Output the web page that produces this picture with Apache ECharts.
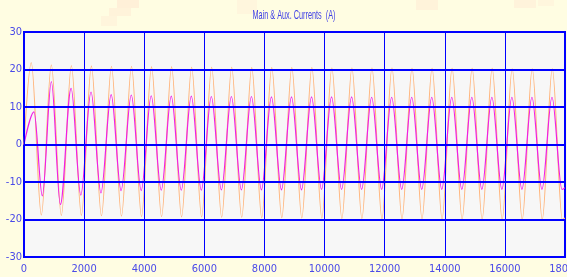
<!DOCTYPE html>
<html>
<head>
<meta charset="utf-8">
<script src="https://cdn.jsdelivr.net/npm/echarts@6/dist/echarts.min.js"></script>
<style>
	html, body { margin: 0; padding: 0; background: #fffde2; }
	#currentChart { width: 567px; height: 277px; }
</style>
</head>
<body>
<div id="currentChart"></div>
<script>
// 主绕组 / 副绕组电流, 取自图中的峰谷点
const mainT = [0, 243, 577, 910, 1243, 1577, 1910, 2243, 2577, 2910, 3243, 3577, 3910, 4243, 4577, 4910, 5243, 5577, 5910,
	6243, 6577, 6910, 7243, 7577, 7910, 8243, 8577, 8910, 9243, 9577, 9910, 10243, 10577, 10910, 11243, 11577, 11910,
	12243, 12577, 12910, 13243, 13577, 13910, 14243, 14577, 14910, 15243, 15577, 15910, 16243, 16577, 16910, 17243,
	17577, 17910, 18000];
const mainAmps = [0, 21.8, -18.8, 21.2, -18.9, 21.0, -18.9, 20.9, -19.0, 20.8, -19.1, 20.8, -19.2, 20.7, -19.2, 20.7, -19.3,
	20.6, -19.3, 20.6, -19.4, 20.6, -19.4, 20.5, -19.5, 20.5, -19.5, 20.5, -19.6, 20.5, -19.6, 20.4, -19.7, 20.4, -19.7,
	20.4, -19.8, 20.4, -19.8, 20.3, -19.8, 20.3, -19.9, 20.3, -19.9, 20.3, -19.9, 20.3, -20.0, 20.2, -20.0, 20.2, -20.0,
	20.2, -20.0, -19.6];
const auxT = [0, 333, 610, 910, 1210, 1567, 1890, 2230, 2560, 2900, 3230, 3570, 3900, 4233, 4567, 4900, 5233, 5567, 5900,
	6233, 6567, 6900, 7233, 7567, 7900, 8233, 8567, 8900, 9233, 9567, 9900, 10233, 10567, 10900, 11233, 11567, 11900,
	12233, 12567, 12900, 13233, 13567, 13900, 14233, 14567, 14900, 15233, 15567, 15900, 16233, 16567, 16900, 17233,
	17567, 17900, 18000];
const auxAmps = [0, 8.7, -13.7, 16.8, -16.0, 15.0, -13.5, 14.0, -12.9, 13.3, -12.3, 13.2, -12.3, 13.0, -12.2, 12.9, -12.2,
	12.9, -12.2, 12.8, -12.1, 12.8, -12.1, 12.8, -12.1, 12.7, -12.1, 12.7, -12.1, 12.7, -12.0, 12.7, -12.0, 12.7, -12.0,
	12.6, -12.0, 12.6, -12.0, 12.6, -12.0, 12.6, -12.0, 12.6, -12.0, 12.6, -12.0, 12.6, -12.0, 12.6, -12.0, 12.6, -12.0,
	12.6, -12.0, -11.5];
const xTicks = [0, 2000, 4000, 6000, 8000, 10000, 12000, 14000, 16000, 18000];
const yTicks = [-30, -20, -10, 0, 10, 20, 30];
const chartTitle = "Main & Aux. Currents  (A)";

const toPairs = (xs, ys) => xs.map((x, i) => [x, ys[i]]);
const labelFont = "'Liberation Sans Narrow', 'DejaVu Sans Condensed', sans-serif";

// 背景上淡粉色的像素块
const blob = (x, y, w, h, o) => ({
	type: "rect",
	z: -20,
	silent: true,
	shape: { x: x, y: y, width: w, height: h },
	style: { fill: "rgba(255, 190, 180, " + o + ")" },
});

const chart = echarts.init(document.getElementById("currentChart"));
const option = {
	backgroundColor: "#fffde2",
	animation: false,
	graphic: [
		blob(117, 0, 22, 8, 0.2),
		blob(109, 8, 22, 8, 0.16),
		blob(101, 16, 16, 10, 0.12),
		blob(237, 0, 20, 14, 0.1),
		blob(416, 0, 22, 10, 0.16),
		blob(514, 0, 22, 8, 0.15),
		blob(538, 0, 16, 6, 0.1),
		{
			type: "text",
			x: 294,
			y: 15,
			scaleX: 0.56,
			style: {
				text: chartTitle,
				font: "13px 'Liberation Sans', Arial, sans-serif",
				fill: "#3f3fe6",
				textAlign: "center",
				textVerticalAlign: "middle",
			},
		},
	],
	grid: {
		left: 24,
		right: 2,
		top: 32,
		bottom: 20,
		z: -10,
		outerBoundsMode: "none",
		containLabel: false,
		show: true,
		backgroundColor: "#f7f7f7",
		borderColor: "#0000ff",
		borderWidth: 2,
	},
	xAxis: {
		type: "value",
		min: xTicks[0],
		max: xTicks[xTicks.length - 1],
		interval: xTicks[1] - xTicks[0],
		axisLine: { show: false },
		axisTick: { show: false },
		splitLine: { show: true, lineStyle: { color: "#0000ff", width: 1 } },
		axisLabel: {
			color: "#4a4ae8",
			fontFamily: labelFont,
			fontSize: 11,
			margin: 7,
			showMinLabel: true,
			showMaxLabel: true,
			hideOverlap: false,
			formatter: (v) => String(v),
		},
	},
	yAxis: {
		type: "value",
		min: yTicks[0],
		max: yTicks[yTicks.length - 1],
		interval: yTicks[1] - yTicks[0],
		axisLine: { show: false },
		axisTick: { show: false },
		splitLine: { show: true, lineStyle: { color: "#0000ff", width: 2 } },
		axisLabel: {
			color: "#4a4ae8",
			fontFamily: labelFont,
			fontSize: 11,
			margin: 2,
			formatter: (v) => String(v),
		},
	},
	series: [
		{
			name: "Main",
			type: "line",
			data: toPairs(mainT, mainAmps),
			showSymbol: false,
			smooth: 0.34,
			smoothMonotone: "x",
			lineStyle: { color: "#ffb47a", width: 1.1 },
			z: -6,
		},
		{
			name: "Aux",
			type: "line",
			data: toPairs(auxT, auxAmps),
			showSymbol: false,
			smooth: 0.34,
			smoothMonotone: "x",
			lineStyle: { color: "#f01ee6", width: 1.2 },
			z: -5,
		},
	],
};
chart.setOption(option, true);
</script>
</body>
</html>
